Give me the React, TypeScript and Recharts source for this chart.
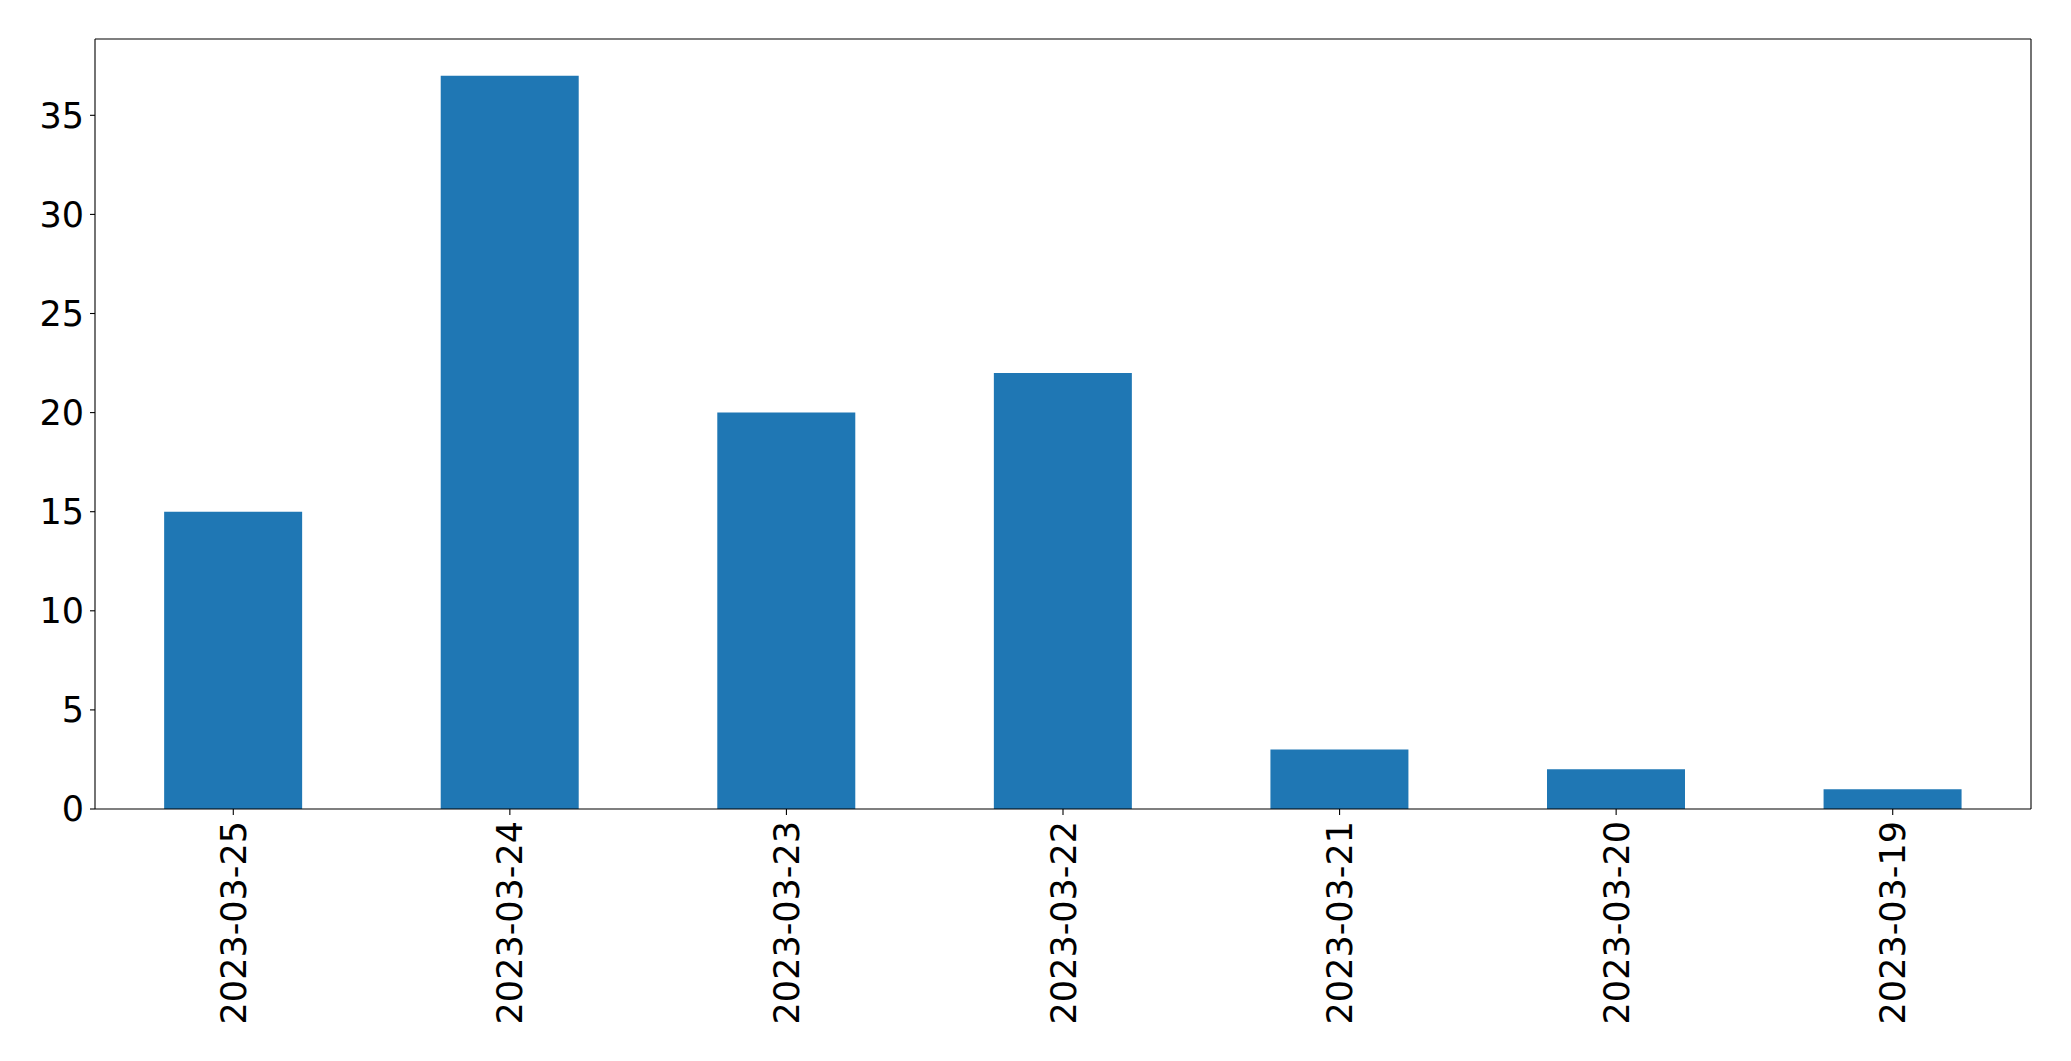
import React from 'react';
import { Bar, BarChart, XAxis, YAxis } from 'recharts';

const dates = ['2023-03-25', '2023-03-24', '2023-03-23', '2023-03-22', '2023-03-21', '2023-03-20', '2023-03-19'];
const counts = [15, 37, 20, 22, 3, 2, 1];
const yTicks = [0, 5, 10, 15, 20, 25, 30, 35];

const data = dates.map((date, i) => ({ date, count: counts[i] }));

const FONT = 'DejaVu Sans';

const DateTick = (props: any) => {
  const { x, y, payload } = props;
  return (
    <g transform={`translate(${x},${y})`}>
      <text
        transform="rotate(-90)"
        x={-6}
        y={0}
        dy="0.36em"
        textAnchor="end"
        fontFamily={FONT}
        fontSize={35}
        fill="#000"
      >
        {payload.value}
      </text>
    </g>
  );
};

const App = () => {
  return (
    <div style={{ position: 'absolute', left: 0, top: 0, background: '#fff' }}>
      <BarChart
        width={2071}
        height={1061}
        data={data}
        margin={{ top: 0, right: 0, bottom: 0, left: 0 }}
        barCategoryGap="25%"
      >
        <XAxis
          dataKey="date"
          height={252}
          interval={0}
          tick={<DateTick />}
          tickSize={6}
          tickMargin={0}
          stroke="#000"
          strokeWidth={1.1}
          tickLine={{ stroke: '#000', strokeWidth: 1.1 }}
        />
        <XAxis
          xAxisId="top"
          dataKey="date"
          orientation="top"
          height={39}
          tick={false}
          tickLine={false}
          stroke="#000"
          strokeWidth={1.1}
        />
        <YAxis
          width={95}
          type="number"
          domain={[0, 38.85]}
          ticks={yTicks}
          interval={0}
          tickSize={5}
          tickMargin={6}
          allowDataOverflow
          stroke="#000"
          strokeWidth={1.1}
          tick={{ fontFamily: FONT, fontSize: 35, fill: '#000' }}
          tickLine={{ stroke: '#000', strokeWidth: 1.1 }}
        />
        <YAxis
          yAxisId="right"
          orientation="right"
          width={40}
          type="number"
          domain={[0, 38.85]}
          tick={false}
          tickLine={false}
          stroke="#000"
          strokeWidth={1.1}
        />
        <Bar dataKey="count" fill="#1f77b4" isAnimationActive={false} />
      </BarChart>
    </div>
  );
};

export default App;
